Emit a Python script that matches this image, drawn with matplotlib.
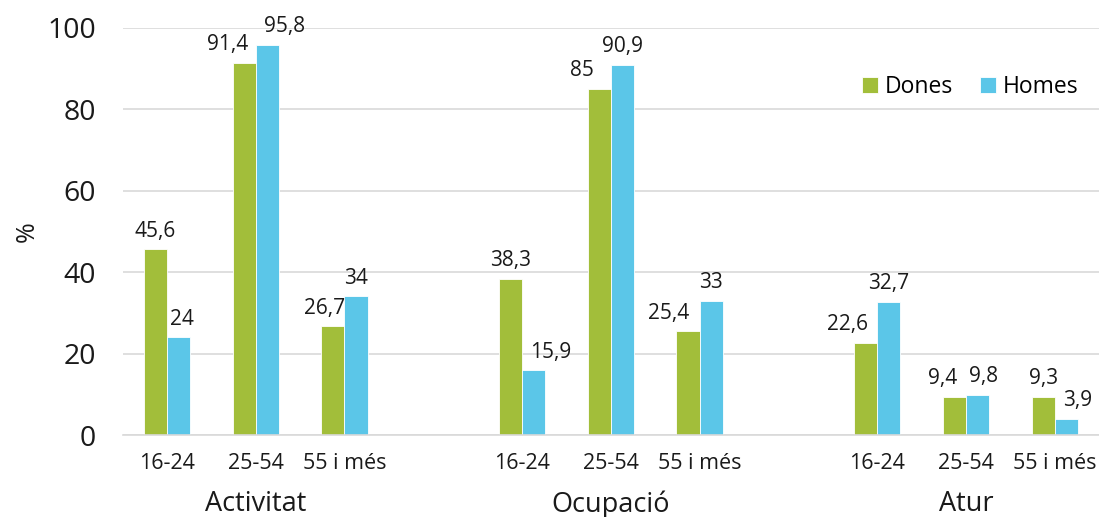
import matplotlib.pyplot as plt
from matplotlib.transforms import blended_transform_factory

plt.rcParams['font.family'] = ['Open Sans', 'DejaVu Sans']

# Data
groups = ['Activitat', 'Ocupació', 'Atur']
ages = ['16-24', '25-54', '55 i més']
dones = [45.6, 91.4, 26.7, 38.3, 85, 25.4, 22.6, 9.4, 9.3]
homes = [24, 95.8, 34, 15.9, 90.9, 33, 32.7, 9.8, 3.9]
dones_lbl = ['45,6', '91,4', '26,7', '38,3', '85', '25,4', '22,6', '9,4', '9,3']
homes_lbl = ['24', '95,8', '34', '15,9', '90,9', '33', '32,7', '9,8', '3,9']

# horizontal nudges (px) of the value labels, to keep them apart like the original
dones_dx = [0, -17, -8, 0, -17, -19, -18, -12, 0]
homes_dx = [3, 17, 0, 17, 0, 0, 0, 6, 11]

green = '#A2BE3A'
blue = '#5BC6E8'

# positions: 3 categories per group, one empty slot between groups
pos = [g * 4 + i for g in range(len(groups)) for i in range(len(ages))]
w = 0.26

fig = plt.figure(figsize=(10.99, 5.17), dpi=100)
ax = fig.add_axes([0.1115, 0.1586, 0.8885, 0.7882])

b1 = ax.bar([p - w / 2 for p in pos], dones, w, color=green, edgecolor='white', linewidth=0.6, label='Dones', zorder=2)
b2 = ax.bar([p + w / 2 for p in pos], homes, w, color=blue, edgecolor='white', linewidth=0.6, label='Homes', zorder=2)

for bars, lbls, dxs in ((b1, dones_lbl, dones_dx), (b2, homes_lbl, homes_dx)):
    for rect, t, dx in zip(bars, lbls, dxs):
        ax.annotate(t, (rect.get_x() + rect.get_width() / 2, rect.get_height()),
                    xytext=(dx * 0.72, 5.5), textcoords='offset points',
                    ha='center', va='bottom', fontsize=15, color='#1a1a1a')

ax.set_xlim(-0.5, 10.5)
ax.set_ylim(0, 100)
ax.set_yticks([0, 20, 40, 60, 80, 100])
ax.tick_params(axis='y', labelsize=20.5, length=0, pad=19, colors='#1a1a1a')
ax.set_xticks(pos)
ax.set_xticklabels(ages * len(groups), fontsize=15.5, color='#1a1a1a')
ax.tick_params(axis='x', length=0, pad=13)
ax.yaxis.grid(True, color='#D9D9D9', linewidth=1.2, zorder=0)
ax.set_axisbelow(True)
for s in ['top', 'right', 'left']:
    ax.spines[s].set_visible(False)
ax.spines['bottom'].set_color('#D9D9D9')
ax.spines['bottom'].set_linewidth(1.2)

ax.set_ylabel('%', fontsize=18, color='#1a1a1a')
ax.yaxis.set_label_coords(-0.085, 0.5)

trans = blended_transform_factory(ax.transData, ax.transAxes)
for g, name in enumerate(groups):
    ax.text(g * 4 + 1, -0.17, name, transform=trans, ha='center', va='center',
            fontsize=19.5, color='#1a1a1a')

ax.legend(loc='upper right', bbox_to_anchor=(1.0, 0.935), ncol=2, frameon=False,
          fontsize=16.5, handlelength=0.7, handleheight=0.7, handletextpad=0.3,
          columnspacing=1.15)

fig.savefig('out.png', dpi=100)
